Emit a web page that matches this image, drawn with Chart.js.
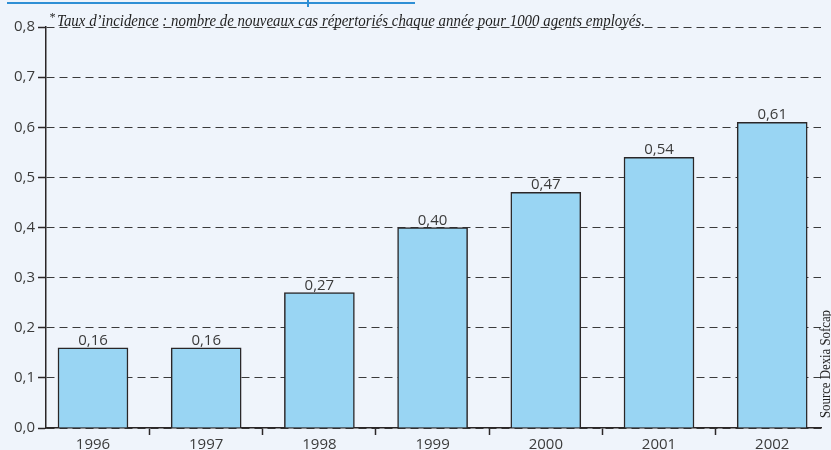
<!DOCTYPE html>
<html>
<head>
<meta charset="utf-8">
<script src="https://cdn.jsdelivr.net/npm/chart.js@4"></script>
<style>
  body { margin: 0; background: #eff4fb; }
  canvas { display: block; }
</style>
</head>
<body>
<canvas id="grafikIncidence" width="831" height="450"></canvas>
<script>
const years = ['1996', '1997', '1998', '1999', '2000', '2001', '2002'];
const rates = [0.16, 0.16, 0.27, 0.40, 0.47, 0.54, 0.61];
const rateLabels = ['0,16', '0,16', '0,27', '0,40', '0,47', '0,54', '0,61'];
const yTickLabels = ['0,0', '0,1', '0,2', '0,3', '0,4', '0,5', '0,6', '0,7', '0,8'];
const footnote = 'Taux d\u2019incidence : nombre de nouveaux cas répertoriés chaque année pour 1000 agents employés.';
const source = 'Source Dexia Sofcap';

const ink = '#2a2627';
const textGrey = '#3b3b3b';

// texts and the cut-off title rule at the top
const decorPlugin = {
    id: 'decor',
    beforeDraw(chart) {
        const c = chart.ctx;
        c.save();
        c.fillStyle = '#eff4fb';
        c.fillRect(0, 0, chart.width, chart.height);
        c.strokeStyle = '#2f8fd5';
        c.lineWidth = 2;
        c.beginPath();
        c.moveTo(7, 3);
        c.lineTo(415, 3);
        c.moveTo(308, 0);
        c.lineTo(308, 7);
        c.stroke();
        c.restore();
    },
    afterDraw(chart) {
        const c = chart.ctx;
        c.save();
        c.fillStyle = '#1f1f1f';
        c.textBaseline = 'alphabetic';
        c.font = 'italic 12px "Liberation Serif"';
        c.fillText('*', 49, 21);
        c.font = 'italic 17px "Liberation Serif"';
        const w = c.measureText(footnote).width;
        c.translate(57, 26);
        c.scale(588 / w, 1);
        c.fillText(footnote, 0, 0);
        c.restore();

        c.save();
        c.fillStyle = '#1f1f1f';
        c.font = '14px "Liberation Serif"';
        const sw = c.measureText(source).width;
        c.translate(830, 418);
        c.rotate(-Math.PI / 2);
        c.scale(108 / sw, 1);
        c.textBaseline = 'alphabetic';
        c.fillText(source, 0, 0);
        c.restore();
    },
    afterDatasetsDraw(chart) {
        const c = chart.ctx;
        const meta = chart.getDatasetMeta(0);
        c.save();
        c.fillStyle = textGrey;
        c.font = '15px "Open Sans"';
        c.textAlign = 'center';
        c.textBaseline = 'alphabetic';
        meta.data.forEach((bar, i) => {
            c.fillText(rateLabels[i], bar.x, bar.y - 3);
        });
        c.restore();
    }
};

const ctx = document.getElementById('grafikIncidence').getContext('2d');

const dataIncidence = {
    datasets: [{
        label: 'Taux d\u2019incidence',
        data: rates.map((v, i) => ({ x: i, y: v })),
        backgroundColor: '#99d5f3',
        borderColor: ink,
        borderWidth: 1.5,
        borderSkipped: 'bottom',
        barThickness: 70,
    }]
};

const configIncidence = {
    type: 'bar',
    data: dataIncidence,
    plugins: [decorPlugin],
    options: {
        responsive: false,
        animation: false,
        layout: {
            padding: { top: 27, right: 10, left: 0, bottom: 0 }
        },
        scales: {
            x: {
                type: 'linear',
                offset: false,
                bounds: 'data',
                min: -0.415,
                max: 6.431,
                afterBuildTicks: function(scale) {
                    scale.ticks = years.map((_, i) => ({ value: i }));
                },
                afterFit: function(scale) {
                    scale.height = 22;
                },
                ticks: {
                    autoSkip: false,
                    maxRotation: 0,
                    padding: 1,
                    color: textGrey,
                    font: { family: 'Open Sans', size: 15 },
                    callback: function(value) {
                        return years[value];
                    }
                },
                grid: {
                    offset: true,
                    drawOnChartArea: false,
                    drawTicks: true,
                    tickLength: 7,
                    tickColor: ink,
                    tickWidth: 1.5,
                },
                border: {
                    color: ink,
                    width: 1.5,
                }
            },
            y: {
                min: 0,
                max: 0.8,
                afterFit: function(scale) {
                    scale.width = 46;
                },
                ticks: {
                    stepSize: 0.1,
                    padding: 3,
                    color: textGrey,
                    font: { family: 'Open Sans', size: 15 },
                    callback: function(value, index) {
                        return yTickLabels[index];
                    }
                },
                grid: {
                    color: '#3a3a3a',
                    lineWidth: 1,
                    tickLength: 8,
                    tickColor: ink,
                    tickWidth: 1.5,
                    tickBorderDash: [],
                },
                border: {
                    color: ink,
                    width: 1.5,
                    dash: [8, 5],
                }
            }
        },
        plugins: {
            legend: { display: false },
            tooltip: { enabled: false },
        }
    }
};

const grafikIncidence = new Chart(ctx, configIncidence);
</script>
</body>
</html>
